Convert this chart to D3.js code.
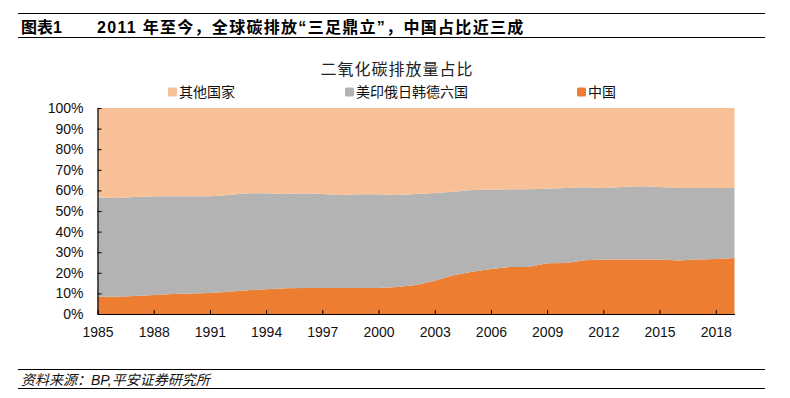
<!DOCTYPE html>
<html>
<head>
<meta charset="utf-8">
<script src="https://cdn.jsdelivr.net/npm/d3@7"></script>
<style>
  html, body { margin: 0; padding: 0; background: #fff; }
  svg { display: block; }
  text { font-family: "Liberation Sans", Arial, "Noto Sans CJK SC", sans-serif; }
</style>
</head>
<body>
<svg id="chart" width="790" height="398"></svg>
<script>
// Years on the x axis
const years = d3.range(1985, 2020)

// Share of global CO2 emissions, %
const china = [
  8.4, 8.4, 8.7, 9.2, 9.7, 9.9, 10.2, 10.8, 11.5, 12.0,
  12.5, 12.6, 12.6, 12.6, 12.6, 12.6, 13.1, 14.1, 16.2, 18.8,
  20.5, 21.8, 22.8, 22.8, 24.6, 24.8, 26.1, 26.5, 26.5, 26.5,
  26.5, 26.0, 26.5, 26.7, 27.2
]
const sixCountries = [
  48.2, 47.9, 48.1, 47.9, 47.4, 47.2, 47.0, 47.0, 47.1, 46.6,
  45.8, 46.0, 45.7, 45.2, 45.5, 45.5, 44.7, 44.1, 42.5, 40.6,
  39.7, 38.5, 37.7, 37.7, 36.2, 36.4, 35.4, 34.7, 35.2, 35.5,
  35.2, 35.2, 34.7, 34.5, 34.0
]
const others = [
  43.4, 43.7, 43.2, 42.9, 42.9, 42.9, 42.8, 42.2, 41.4, 41.4,
  41.7, 41.4, 41.7, 42.2, 41.9, 41.9, 42.2, 41.8, 41.3, 40.6,
  39.8, 39.7, 39.5, 39.5, 39.2, 38.8, 38.5, 38.8, 38.3, 38.0,
  38.3, 38.8, 38.8, 38.8, 38.8
]

const seriesKeys = ['china', 'six', 'others']
const seriesNames = { others: '其他国家', six: '美印俄日韩德六国', china: '中国' }
const legendOrder = ['others', 'six', 'china']
const xTickYears = d3.range(1985, 2019, 3)
const yTicks = d3.range(0, 101, 10)

const colors = { others: '#F8C097', six: '#B3B3B3', china: '#ED7D31' }

const svg = d3.select('#chart')

// Header block
svg.append('line').attr('x1', 18).attr('x2', 765).attr('y1', 13.5).attr('y2', 13.5)
  .attr('stroke', '#000').attr('stroke-width', 1.2)
svg.append('line').attr('x1', 18).attr('x2', 765).attr('y1', 37.5).attr('y2', 37.5)
  .attr('stroke', '#000').attr('stroke-width', 1.2)
svg.append('text').attr('x', 21).attr('y', 32.5)
  .style('font-size', '16px').style('font-weight', 'bold')
  .text('图表1')
svg.append('text').attr('x', 97).attr('y', 32.5)
  .style('font-size', '16px').style('font-weight', 'bold').style('letter-spacing', '1.3px')
  .text('2011 年至今，全球碳排放“三足鼎立”，中国占比近三成')

// Chart title
svg.append('text').attr('x', 397).attr('y', 69)
  .attr('text-anchor', 'middle').attr('dominant-baseline', 'central')
  .style('font-size', '16px').style('letter-spacing', '1px').style('fill', '#222')
  .text('二氧化碳排放量占比')

// Legend
const legendX = { others: 168, six: 345, china: 577 }
legendOrder.forEach(k => {
  const g = svg.append('g').attr('transform', `translate(${legendX[k]},92)`)
  g.append('rect').attr('x', 0).attr('y', -4.5).attr('width', 9).attr('height', 9)
    .attr('rx', 1.5).attr('fill', colors[k])
  g.append('text').attr('x', 11).attr('y', 0).attr('dominant-baseline', 'central')
    .style('font-size', '14px').style('fill', '#111')
    .text(seriesNames[k])
})

// Plot
const x = d3.scaleLinear().domain([1985, 2019]).range([97.5, 734.5])
const y = d3.scaleLinear().domain([0, 100]).range([314, 108])

const table = years.map((yr, i) => ({
  year: yr, china: china[i], six: sixCountries[i], others: others[i]
}))
const stacked = d3.stack().keys(seriesKeys)(table)

const area = d3.area()
  .x(d => x(d.data.year))
  .y0(d => y(d[0]))
  .y1(d => y(Math.min(100, d[1])))

svg.append('g').selectAll('path')
  .data(stacked)
  .join('path')
  .attr('d', d => {
    // top series always closes at the 100% line
    if (d.key === 'others') {
      return d3.area().x(p => x(p.data.year)).y0(p => y(p[0])).y1(y(100))(d)
    }
    return area(d)
  })
  .attr('fill', d => colors[d.key])

// Axes
const xAxis = d3.axisBottom(x)
  .tickValues(xTickYears)
  .tickFormat(d3.format('d'))
  .tickSizeInner(-4)
  .tickSizeOuter(0)
  .tickPadding(13)
const yAxis = d3.axisLeft(y)
  .tickValues(yTicks)
  .tickFormat(d => d + '%')
  .tickSizeInner(-4)
  .tickSizeOuter(0)
  .tickPadding(14)

const gx = svg.append('g').attr('transform', 'translate(0,314)').call(xAxis)
const gy = svg.append('g').attr('transform', 'translate(97.5,0)').call(yAxis)
;[gx, gy].forEach(g => {
  g.select('.domain').attr('stroke', '#000').attr('stroke-width', 1.2)
  g.selectAll('.tick line').attr('stroke', '#000')
  g.selectAll('.tick text')
    .style('font-size', '14px')
    .style('font-family', '"Liberation Sans", Arial, sans-serif')
    .attr('fill', '#111')
})

// Footer
svg.append('line').attr('x1', 18).attr('x2', 765).attr('y1', 369.5).attr('y2', 369.5)
  .attr('stroke', '#000').attr('stroke-width', 1)
svg.append('line').attr('x1', 18).attr('x2', 765).attr('y1', 388.5).attr('y2', 388.5)
  .attr('stroke', '#000').attr('stroke-width', 1)
svg.append('text').attr('x', 21).attr('y', 380).attr('dominant-baseline', 'central')
  .style('font-size', '14px').style('font-style', 'italic').style('fill', '#111')
  .text('资料来源：BP,平安证券研究所')
</script>
</body>
</html>
